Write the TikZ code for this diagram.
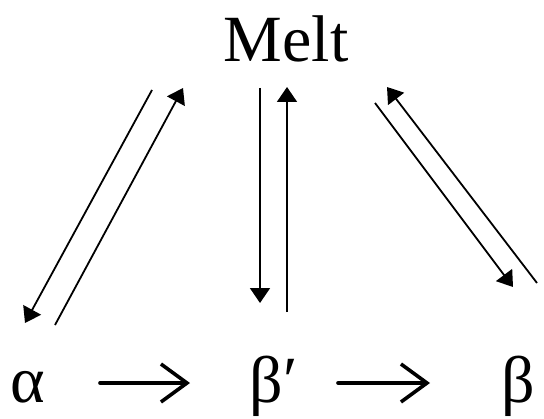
\documentclass[tikz,border=0pt]{standalone}
\usepackage{fontspec}
\setmainfont{Liberation Serif}
\usetikzlibrary{arrows.meta,calc}

\begin{document}
\begin{tikzpicture}[
  x=0.5pt, y=0.5pt,
  phase/.style ={font=\fontsize{33}{40}\selectfont, inner sep=0pt, anchor=base},
  tr/.style    ={-{Triangle[length=7.5pt,width=10pt]}, line width=0.9pt},
  go/.style    ={-{Straight Barb[length=13pt,width=19pt,line width=1.8pt]}, line width=1.8pt, line cap=round},
]
\useasboundingbox (0,0) rectangle (544,418);
% --- phases ---
\node[phase] (melt)  at (286,356) {Melt};
\node[phase] (alpha) at (28,16)   {α};
\node[phase] (bp)    at (274,16)  {β′};
\node[phase] (beta)  at (518,16)  {β};

% --- melt <-> alpha ---
\draw[tr] ($(melt.base)+(-134,-28)$) -- ($(alpha.base)+(-3,79)$);
\draw[tr] ($(alpha.base)+(27,77)$) -- ($(melt.base)+(-103,-26)$);
% --- melt <-> beta' ---
\draw[tr] ($(melt.base)+(-26,-26)$) -- ($(bp.base)+(-14,99)$);
\draw[tr] ($(bp.base)+(13,90)$) -- ($(melt.base)+(1,-25)$);
% --- melt <-> beta ---
\draw[tr] ($(melt.base)+(89,-41)$) -- ($(beta.base)+(-5,115)$);
\draw[tr] ($(beta.base)+(19,119)$) -- ($(melt.base)+(101,-25)$);

% --- solid state ---
\draw[go] ($(alpha.base)+(72,19)$) -- ($(bp.base)+(-84,19)$);
\draw[go] ($(bp.base)+(64,19)$) -- ($(beta.base)+(-88,19)$);
\end{tikzpicture}
\end{document}
